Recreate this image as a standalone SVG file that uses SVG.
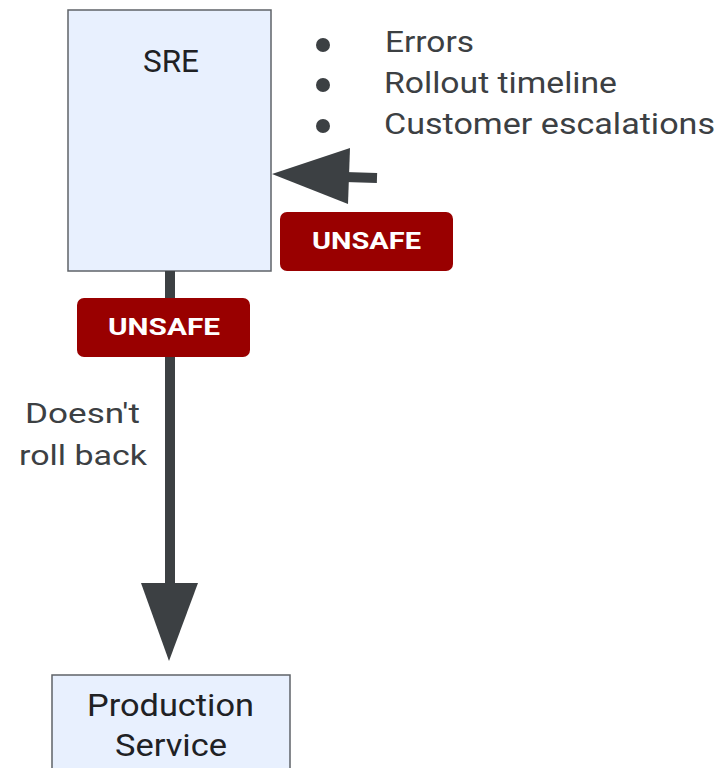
<svg xmlns="http://www.w3.org/2000/svg" width="722" height="768" viewBox="0 0 722 768">
<style>
.box{fill:#e8f0fe;stroke:#5f6368;stroke-width:1.5}
.lbl{font-family:Roboto,"Liberation Sans",sans-serif;font-size:32px;fill:#202124}
.txt{font-family:Roboto,"Liberation Sans",sans-serif;font-size:29px;fill:#3c4043}
.side{font-family:Roboto,"Liberation Sans",sans-serif;font-size:28px;fill:#3c4043}
.badge{fill:#990000}
.btxt{font-family:Roboto,"Liberation Sans",sans-serif;font-size:23px;font-weight:bold;fill:#ffffff}
.conn{stroke:#3c4043;stroke-width:10;fill:none}
.head{fill:#3c4043}
.dot{fill:#3c4043}
</style>
<rect width="722" height="768" fill="#ffffff"/>
<g id="sre">
<rect class="box" x="68" y="10" width="203" height="261"/>
<text class="lbl" x="143" y="72" textLength="56" lengthAdjust="spacingAndGlyphs">SRE</text>
</g>
<g id="production">
<rect class="box" x="52" y="675" width="238" height="100"/>
<text class="lbl" x="87" y="716" textLength="167" lengthAdjust="spacingAndGlyphs">Production</text>
<text class="lbl" x="115" y="756" textLength="112" lengthAdjust="spacingAndGlyphs">Service</text>
</g>
<g id="signals">
<circle class="dot" cx="323" cy="45" r="7"/>
<circle class="dot" cx="323" cy="85" r="7"/>
<circle class="dot" cx="323" cy="126" r="7"/>
<text class="txt" x="385" y="52" textLength="89" lengthAdjust="spacingAndGlyphs">Errors</text>
<text class="txt" x="384" y="93" textLength="233" lengthAdjust="spacingAndGlyphs">Rollout timeline</text>
<text class="txt" x="384" y="134" textLength="331" lengthAdjust="spacingAndGlyphs">Customer escalations</text>
</g>
<g id="connectors">
<line class="conn" x1="377" y1="178" x2="345" y2="177"/>
<polygon class="head" points="272,174 350,148 348,204"/>
<line class="conn" x1="170" y1="271" x2="170" y2="590"/>
<polygon class="head" points="141,583 198,583 169,661"/>
</g>
<g id="badge-input">
<rect class="badge" x="280" y="212" width="173" height="59" rx="7"/>
<text class="btxt" x="312" y="249" textLength="109" lengthAdjust="spacingAndGlyphs">UNSAFE</text>
</g>
<g id="badge-rollback">
<rect class="badge" x="77" y="298" width="173" height="59" rx="7"/>
<text class="btxt" x="108" y="335" textLength="112" lengthAdjust="spacingAndGlyphs">UNSAFE</text>
</g>
<g id="rollback-label">
<text class="side" x="25" y="423" textLength="115" lengthAdjust="spacingAndGlyphs">Doesn't</text>
<text class="side" x="19" y="465" textLength="128" lengthAdjust="spacingAndGlyphs">roll back</text>
</g>
</svg>
